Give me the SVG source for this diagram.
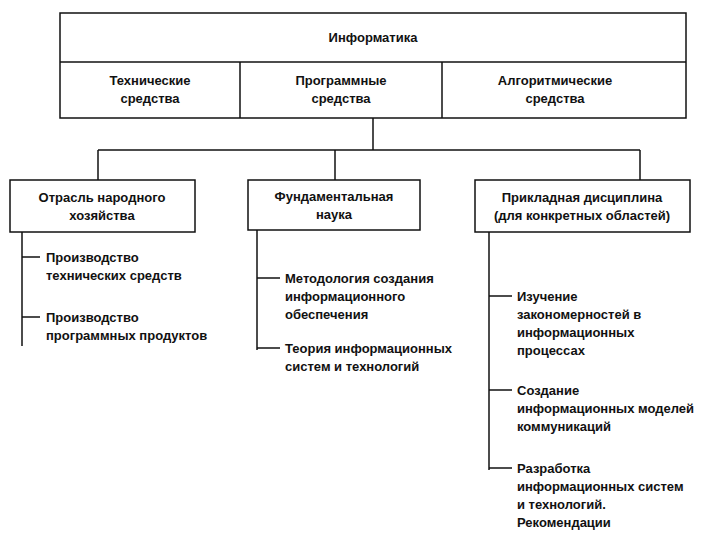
<svg xmlns="http://www.w3.org/2000/svg" width="720" height="540" viewBox="0 0 720 540">
<style>
rect{fill:#fff;stroke:#111;stroke-width:1.5}
line{stroke:#111;stroke-width:1.5}
text{font-family:"Liberation Sans",Arial,sans-serif;font-size:13px;fill:#111;font-weight:bold}
.c{text-anchor:middle}
</style>
<rect x="0" y="0" width="720" height="540" style="stroke:none"/>
<g id="top">
<rect x="60" y="13" width="626" height="105"/>
<line x1="60" y1="62" x2="686" y2="62"/>
<line x1="240" y1="62" x2="240" y2="118"/>
<line x1="442" y1="62" x2="442" y2="118"/>
<text class="c" x="373" y="42">Информатика</text>
<text class="c" x="150" y="85">Технические</text><text class="c" x="150" y="103">средства</text>
<text class="c" x="341" y="85">Программные</text><text class="c" x="341" y="103">средства</text>
<text class="c" x="555" y="85">Алгоритмические</text><text class="c" x="555" y="103">средства</text>
</g>
<g id="connectors">
<line x1="373" y1="118" x2="373" y2="150"/>
<line x1="98" y1="150" x2="640" y2="150"/>
<line x1="98" y1="150" x2="98" y2="180"/>
<line x1="335" y1="150" x2="335" y2="180"/>
<line x1="640" y1="150" x2="640" y2="180"/>
<line x1="22" y1="232" x2="22" y2="346"/>
<line x1="22" y1="257" x2="40" y2="257"/>
<line x1="22" y1="317" x2="40" y2="317"/>
<line x1="257" y1="230" x2="257" y2="350"/>
<line x1="257" y1="278" x2="280" y2="278"/>
<line x1="257" y1="348" x2="280" y2="348"/>
<line x1="489" y1="232" x2="489" y2="470"/>
<line x1="489" y1="296" x2="512" y2="296"/>
<line x1="489" y1="390" x2="512" y2="390"/>
<line x1="489" y1="468" x2="512" y2="468"/>
</g>
<g id="n1">
<rect x="10" y="180" width="185" height="52"/>
<text class="c" x="102" y="202">Отрасль народного</text><text class="c" x="102" y="220">хозяйства</text>
</g>
<g id="n2">
<rect x="248" y="180" width="172" height="50"/>
<text class="c" x="334" y="201">Фундаментальная</text><text class="c" x="334" y="219">наука</text>
</g>
<g id="n3">
<rect x="475" y="180" width="215" height="52"/>
<text class="c" x="582" y="202">Прикладная дисциплина</text><text class="c" x="582" y="220">(для конкретных областей)</text>
</g>
<g id="l1">
<text x="46" y="262">Производство</text><text x="46" y="280">технических средств</text>
<text x="46" y="322">Производство</text><text x="46" y="340">программных продуктов</text>
</g>
<g id="l2">
<text x="285" y="283">Методология создания</text><text x="285" y="301">информационного</text><text x="285" y="319">обеспечения</text>
<text x="285" y="353">Теория информационных</text><text x="285" y="371">систем и технологий</text>
</g>
<g id="l3">
<text x="517" y="301">Изучение</text><text x="517" y="319">закономерностей  в</text><text x="517" y="337">информационных</text><text x="517" y="355">процессах</text>
<text x="517" y="395">Создание</text><text x="517" y="413">информационных моделей</text><text x="517" y="431">коммуникаций</text>
<text x="517" y="473">Разработка</text><text x="517" y="491">информационных систем</text><text x="517" y="509">и технологий.</text><text x="517" y="527">Рекомендации</text>
</g>
</svg>
